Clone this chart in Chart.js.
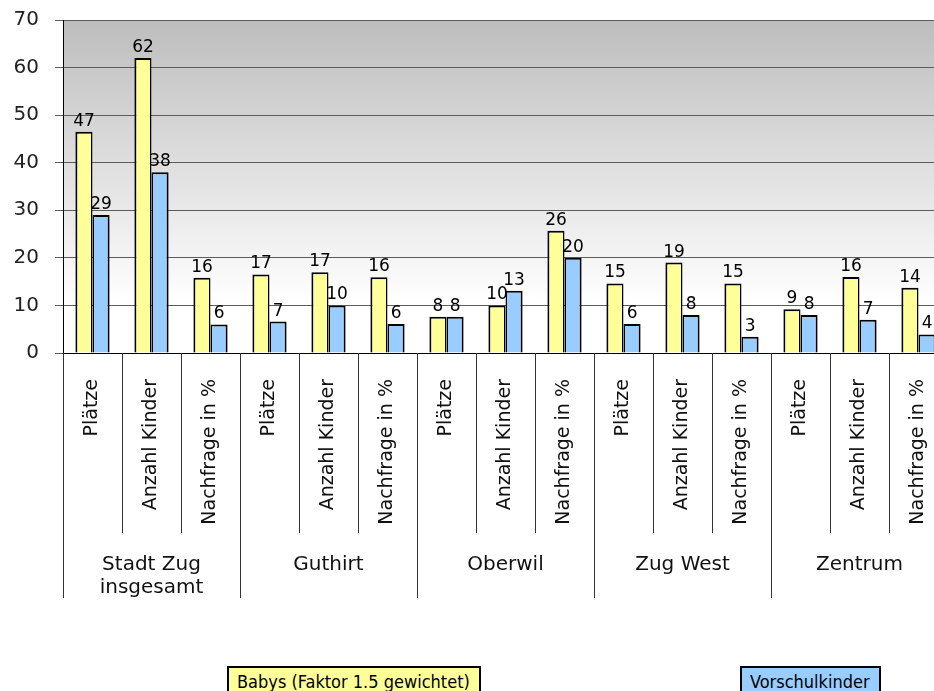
<!DOCTYPE html>
<html>
<head>
<meta charset="utf-8">
<script src="https://cdn.jsdelivr.net/npm/chart.js@4/dist/chart.umd.min.js"></script>
<style>
    html, body { margin: 0; padding: 0; overflow: hidden; background: #fff; }
    #wrap { position: relative; width: 960px; height: 691px; }
    .legendBox {
        position: absolute;
        top: 666px;
        height: 40px;
        box-sizing: border-box;
        border: 2px solid #000;
        padding: 3px 9px 0 8px;
        font: 18px "DejaVu Sans Condensed", "DejaVu Sans", sans-serif;
        line-height: 21px;
        color: #000;
        white-space: nowrap;
    }
</style>
</head>
<body>
<div id="wrap">
    <canvas id="chart1"></canvas>
    <div class="legendBox" id="leg0" style="left:227px; background:#ffff99;"></div>
    <div class="legendBox" id="leg1" style="left:740px; background:#99ccff;"></div>
</div>
<script>
const categories = [
    'Plätze', 'Anzahl Kinder', 'Nachfrage in %',
    'Plätze', 'Anzahl Kinder', 'Nachfrage in %',
    'Plätze', 'Anzahl Kinder', 'Nachfrage in %',
    'Plätze', 'Anzahl Kinder', 'Nachfrage in %',
    'Plätze', 'Anzahl Kinder', 'Nachfrage in %'
];
const groups = [['Stadt Zug', 'insgesamt'], ['Guthirt'], ['Oberwil'], ['Zug West'], ['Zentrum']];
const seriesNames = ['Babys (Faktor 1.5 gewichtet)', 'Vorschulkinder'];
const babys = [46.5, 62, 15.8, 16.5, 17, 15.9, 7.6, 10, 25.7, 14.6, 19, 14.6, 9.2, 16, 13.7];
const vorschulkinder = [29, 38, 6, 6.6, 10, 6.1, 7.6, 13.1, 20, 6.1, 8, 3.4, 8, 7, 3.9];
const yTicks = [0, 10, 20, 30, 40, 50, 60, 70];

document.getElementById('leg0').textContent = seriesNames[0];
document.getElementById('leg1').textContent = seriesNames[1];

// Hintergrund mit Verlauf im Diagrammbereich
const bgPlugin = {
    id: 'bgGradient',
    beforeDraw(chart) {
        const { ctx, chartArea: a } = chart;
        const g = ctx.createLinearGradient(0, a.top, 0, a.bottom);
        g.addColorStop(0, '#bdbdbd');
        g.addColorStop(0.85, '#ffffff');
        g.addColorStop(1, '#ffffff');
        ctx.save();
        ctx.fillStyle = g;
        ctx.fillRect(a.left, a.top, a.right - a.left, a.bottom - a.top);
        ctx.restore();
    }
};

// Werte über den Balken
const valuePlugin = {
    id: 'values',
    afterDatasetsDraw(chart) {
        const ctx = chart.ctx;
        ctx.save();
        ctx.font = '17px "DejaVu Sans", sans-serif';
        ctx.fillStyle = '#000';
        ctx.textAlign = 'center';
        ctx.textBaseline = 'bottom';
        chart.data.datasets.forEach((ds, di) => {
            chart.getDatasetMeta(di).data.forEach((bar, i) => {
                ctx.fillText(String(Math.round(ds.data[i])), bar.x, bar.y - 2);
            });
        });
        ctx.restore();
    }
};

// Trennlinien und Gruppenbeschriftung unter der X-Achse
const groupPlugin = {
    id: 'groups',
    afterDraw(chart) {
        const { ctx, chartArea: a } = chart;
        const x = chart.scales.x;
        const w = (a.right - a.left) / categories.length;
        ctx.save();
        ctx.strokeStyle = '#333';
        ctx.lineWidth = 1;
        for (let i = 0; i <= categories.length; i++) {
            const px = Math.round(a.left + i * w) + 0.5;
            ctx.beginPath();
            ctx.moveTo(px, a.bottom);
            ctx.lineTo(px, i % 3 === 0 ? 598 : 533);
            ctx.stroke();
        }
        ctx.font = '20px "DejaVu Sans", sans-serif';
        ctx.fillStyle = '#111';
        ctx.textAlign = 'center';
        ctx.textBaseline = 'middle';
        groups.forEach((lines, g) => {
            const cx = x.getPixelForValue(g * 3 + 1);
            lines.forEach((t, j) => ctx.fillText(t, cx, 565 + j * 23));
        });
        ctx.restore();
    }
};

const ctx = document.getElementById('chart1').getContext('2d');
new Chart(ctx, {
    type: 'bar',
    data: {
        labels: categories,
        datasets: [
            {
                label: seriesNames[0],
                data: babys,
                backgroundColor: '#ffff99',
                borderColor: '#000',
                borderWidth: { top: 2, left: 2, right: 1.5, bottom: 0 },
                categoryPercentage: 0.58,
                barPercentage: 1.0
            },
            {
                label: seriesNames[1],
                data: vorschulkinder,
                backgroundColor: '#99ccff',
                borderColor: '#000',
                borderWidth: { top: 2, left: 1.5, right: 2, bottom: 0 },
                categoryPercentage: 0.58,
                barPercentage: 1.0
            }
        ]
    },
    options: {
        responsive: true,
        maintainAspectRatio: false,
        animation: false,
        layout: { padding: { top: 20, right: 12, left: 0, bottom: 0 } },
        plugins: {
            legend: { display: false },
            tooltip: { enabled: false }
        },
        scales: {
            x: {
                grid: { display: false },
                border: { display: true, color: '#000', width: 1 },
                ticks: {
                    minRotation: 90,
                    maxRotation: 90,
                    autoSkip: false,
                    padding: 18,
                    color: '#111',
                    font: { family: 'DejaVu Sans', size: 19 }
                },
                afterFit(scale) {
                    scale.height = 338;
                    scale.paddingLeft = 0;
                    scale.paddingRight = 0;
                }
            },
            y: {
                min: 0,
                max: 70,
                afterBuildTicks(scale) { scale.ticks = yTicks.map(v => ({ value: v })); },
                grid: { color: '#5c5c5c', lineWidth: 1, tickLength: 8 },
                border: { display: true, color: '#000', width: 1 },
                ticks: {
                    padding: 16,
                    color: '#222',
                    font: { family: 'DejaVu Sans', size: 20 }
                },
                afterFit(scale) {
                    scale.width = 63;
                    scale.paddingTop = 0;
                    scale.paddingBottom = 0;
                }
            }
        }
    },
    plugins: [bgPlugin, valuePlugin, groupPlugin]
});
</script>
</body>
</html>
